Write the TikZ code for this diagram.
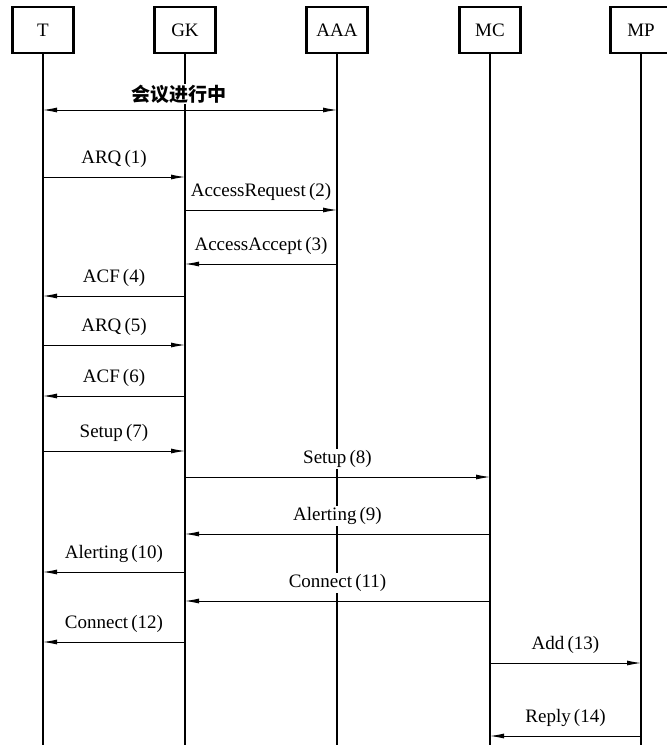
\documentclass[tikz,border=0pt]{standalone}
\usepackage{fontspec}
\setmainfont{Liberation Serif}
\newfontfamily\cjkfont{Noto Sans CJK SC}
\usetikzlibrary{arrows.meta,positioning}
\tikzset{actor/.style={draw,line width=2.2pt,minimum width=61pt,minimum height=46pt,inner sep=0pt,font=\fontsize{19}{22}\selectfont},
  life/.style={line width=1.8pt},
  msg/.style={-{Latex[length=14pt,width=5pt]},line width=0.9pt},
  twoway/.style={{Latex[length=14pt,width=5pt]}-{Latex[length=14pt,width=5pt]},line width=0.9pt},
  tag/.style={fill=white,inner sep=1pt,font=\fontsize{19}{22}\selectfont}}

\begin{document}
\begin{tikzpicture}[x=1pt,y=-1pt]
\useasboundingbox (0,0) rectangle (667,745);
\clip (0,0) rectangle (667,745);
% entities and their lifelines
\foreach \n/\x in {T/43,GK/185,AAA/337,MC/490,MP/641} {
  \node[actor] (\n) at (\x,30) {\n};
  \draw[life] (\n.south) -- (\n |- 0,760);}
% conference in progress
\draw[twoway] (T |- 0,110) -- (AAA |- 0,110);
\node[tag,font=\cjkfont\bfseries\fontsize{19}{22}\selectfont] (meet) at ([xshift=-6pt]GK |- 0,94) {会议进行中};
% messages
\foreach \a/\b/\y/\txt in {T/GK/177/{ARQ\,(1)},GK/AAA/210/{AccessRequest\,(2)},
  AAA/GK/264/{AccessAccept\,(3)},GK/T/296/{ACF\,(4)},T/GK/345/{ARQ\,(5)},
  GK/T/396/{ACF\,(6)},T/GK/451/{Setup\,(7)},GK/MC/477/{Setup\,(8)},
  MC/GK/534/{Alerting\,(9)},GK/T/572/{Alerting\,(10)},MC/GK/601/{Connect\,(11)},
  GK/T/642/{Connect\,(12)},MC/MP/663/{Add\,(13)},MP/MC/736/{Reply\,(14)}} {
  \draw[msg] (\a |- 0,\y) -- (\b |- 0,\y) node[tag,midway,above=8pt] {\txt};}
\end{tikzpicture}
\end{document}
